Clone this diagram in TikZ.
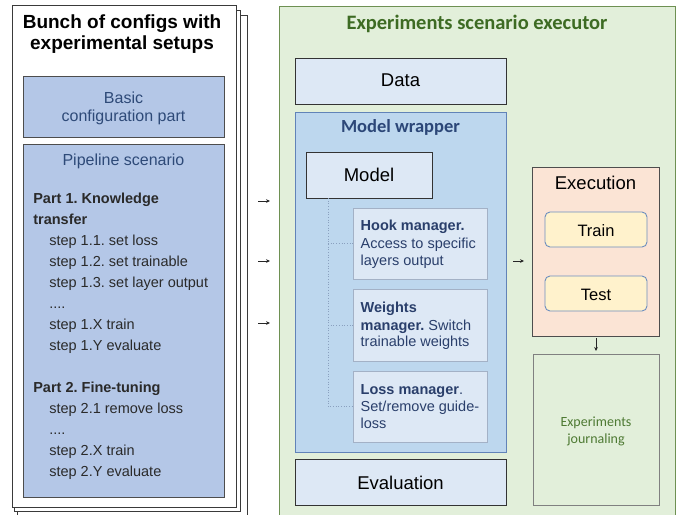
\documentclass[tikz,border=0pt]{standalone}
\usepackage{fontspec}
\setmainfont{Liberation Sans}
\newfontfamily\calib{Carlito}
\usetikzlibrary{arrows.meta}
\frenchspacing
\definecolor{pagedraw}{HTML}{3A3A3A}
\definecolor{cfgfill}{HTML}{B4C7E7}
\definecolor{cfgdraw}{HTML}{4D4D4D}
\definecolor{cfgtext}{HTML}{2E4A78}
\definecolor{steptext}{HTML}{2A2A2A}
\definecolor{greenfill}{HTML}{E2EFDA}
\definecolor{greendraw}{HTML}{6E9052}
\definecolor{greentitle}{HTML}{3D6B23}
\definecolor{lightblue}{HTML}{DDE8F5}
\definecolor{darkdraw}{HTML}{333333}
\definecolor{wrapfill}{HTML}{BDD7EE}
\definecolor{wrapdraw}{HTML}{6183B8}
\definecolor{wraptitle}{HTML}{2C4778}
\definecolor{mgrdraw}{HTML}{A3B1C6}
\definecolor{mgrtext}{HTML}{2A3F6B}
\definecolor{execfill}{HTML}{FBE4D5}
\definecolor{execdraw}{HTML}{4D4D4D}
\definecolor{tfill}{HTML}{FFF2CC}
\definecolor{tdraw}{HTML}{6C8EBF}
\definecolor{journaldraw}{HTML}{808080}
\definecolor{journaltext}{HTML}{4E7A33}
\definecolor{treecol}{HTML}{8AA0BF}
\begin{document}
\begin{tikzpicture}[x=1pt,y=-1pt,
  box/.style={inner sep=0pt, outer sep=0pt, anchor=north west, line width=0.9pt},
  txt/.style={anchor=base, inner sep=0pt, outer sep=0pt},
  txtl/.style={anchor=base west, inner sep=0pt, outer sep=0pt},
  steptxt/.style={txtl, text=steptext, font=\fontsize{14.5}{17}\selectfont},
  mgrtxt/.style={txtl, text=mgrtext, font=\fontsize{14.5}{17}\selectfont},
  arr/.style={-{Stealth[length=4pt,width=3.6pt]}, line width=0.6pt, draw=black!85},
  tree/.style={draw=treecol, line width=0.7pt, dotted}
]
\useasboundingbox (0,0) rectangle (685,514);
% stacked pages
\node[box, draw=pagedraw, fill=white, minimum width=230pt, minimum height=500pt] (p3) at (17,15) {};
\node[box, draw=pagedraw, fill=white, minimum width=226pt, minimum height=501pt] (p2) at (14,10) {};
\node[box, draw=pagedraw, fill=white, minimum width=224pt, minimum height=502pt] (p1) at (12,5) {};
\node[txt, font=\bfseries\fontsize{19}{21}\selectfont] (t1) at (122,28.3) {Bunch of configs with};
\node[txt, font=\bfseries\fontsize{19}{21}\selectfont] (t2) at (122,49.3) {experimental setups};
\node[box, draw=cfgdraw, fill=cfgfill, minimum width=201pt, minimum height=61pt] (basic) at (23,76) {};
\node[txt, text=cfgtext, font=\fontsize{16}{19}\selectfont] (b1) at (123.5,103.3) {Basic};
\node[txt, text=cfgtext, font=\fontsize{16}{19}\selectfont] (b2) at (123.5,121.7) {configuration part};
\node[box, draw=cfgdraw, fill=cfgfill, minimum width=201pt, minimum height=353pt] (pipe) at (23,144) {};
\node[txt, text=cfgtext, font=\fontsize{16}{19}\selectfont] (ps) at (123.5,165.7) {Pipeline scenario};
\node[steptxt, font=\bfseries\fontsize{14.5}{17}\selectfont] (pa1) at (33.3,203.3) {Part 1. Knowledge};
\node[steptxt, font=\bfseries\fontsize{14.5}{17}\selectfont] (pa1b) at (33.3,224.3) {transfer};
\node[steptxt] (s11) at (49.3,245.5) {step 1.1. set loss};
\node[steptxt] (s12) at (49.3,266.5) {step 1.2. set trainable};
\node[steptxt] (s13) at (49.3,287.5) {step 1.3. set layer output};
\node[steptxt] (s1d) at (49.3,308.5) {....};
\node[steptxt] (s1x) at (49.3,329.5) {step 1.X train};
\node[steptxt] (s1y) at (49.3,350.5) {step 1.Y evaluate};
\node[steptxt, font=\bfseries\fontsize{14.5}{17}\selectfont] (pa2) at (33.3,392.3) {Part 2. Fine-tuning};
\node[steptxt] (s21) at (49.3,413.3) {step 2.1 remove loss};
\node[steptxt] (s2d) at (49.3,434.2) {....};
\node[steptxt] (s2x) at (49.3,455.1) {step 2.X train};
\node[steptxt] (s2y) at (49.3,476) {step 2.Y evaluate};
% executor
\node[box, draw=greendraw, fill=greenfill, minimum width=396pt, minimum height=512pt] (green) at (279,6) {};
\node[txt, text=greentitle, font=\calib\bfseries\fontsize{20.5}{24}\selectfont] (gt) at (477,29.3) {Experiments scenario executor};
\node[box, draw=darkdraw, fill=lightblue, minimum width=211pt, minimum height=46pt] (data) at (295,58) {};
\node[txt, font=\fontsize{18.5}{22}\selectfont] (dt) at (400.5,86.7) {Data};
\node[box, draw=wrapdraw, fill=wrapfill, minimum width=211pt, minimum height=340pt] (wrap) at (295,112) {};
\node[txt, text=wraptitle, font=\calib\bfseries\fontsize{18.5}{22}\selectfont] (wt) at (400.5,132.7) {Model wrapper};
\node[box, draw=darkdraw, fill=lightblue, minimum width=126pt, minimum height=46pt] (model) at (306,152) {};
\node[txt, font=\fontsize{18.5}{22}\selectfont] (mt) at (369,181.7) {Model};
\node[box, draw=mgrdraw, fill=lightblue, minimum width=134pt, minimum height=71pt] (hook) at (353,208) {};
\node[box, draw=mgrdraw, fill=lightblue, minimum width=134pt, minimum height=72pt] (weights) at (353,289) {};
\node[box, draw=mgrdraw, fill=lightblue, minimum width=134pt, minimum height=71pt] (loss) at (353,371) {};
\coordinate (tr) at (328,198);
\draw[tree] (tr) |- (loss.west);
\draw[tree] (tr |- hook.west) -- (hook.west);
\draw[tree] (tr |- weights.west) -- (weights.west);
\node[mgrtxt] (h1) at (360.7,230.7) {\textbf{Hook manager.}};
\node[mgrtxt] (h2) at (360.7,248.3) {Access to specific};
\node[mgrtxt] (h3) at (360.7,265) {layers output};
\node[mgrtxt] (w1) at (360.7,312.3) {\textbf{Weights}};
\node[mgrtxt] (w2) at (360.7,330) {\textbf{manager.} Switch};
\node[mgrtxt] (w3) at (360.7,346.7) {trainable weights};
\node[mgrtxt] (l1) at (360.7,394) {\textbf{Loss manager}.};
\node[mgrtxt] (l2) at (360.7,411.7) {Set/remove guide-};
\node[mgrtxt] (l3) at (360.7,428.3) {loss};
\node[box, draw=darkdraw, fill=lightblue, minimum width=211pt, minimum height=46pt] (eval) at (295,459) {};
\node[txt, font=\fontsize{18.5}{22}\selectfont] (et) at (400.5,489.3) {Evaluation};
\node[box, draw=execdraw, fill=execfill, minimum width=127pt, minimum height=169pt] (exec) at (532,167) {};
\node[txt, font=\fontsize{18.5}{22}\selectfont] (ext) at (595.5,189.3) {Execution};
\node[box, draw=tdraw, fill=tfill, rounded corners=5pt, minimum width=102pt, minimum height=35pt] (train) at (545,212) {};
\node[txt, font=\fontsize{16.5}{20}\selectfont] (trt) at (596,236) {Train};
\node[box, draw=tdraw, fill=tfill, rounded corners=5pt, minimum width=102pt, minimum height=35pt] (test) at (545,276) {};
\node[txt, font=\fontsize{16.5}{20}\selectfont] (tet) at (596,300) {Test};
\node[box, draw=journaldraw, fill=greenfill, minimum width=126pt, minimum height=151pt, line width=0.7pt] (journal) at (533,354) {};
\node[txt, text=journaltext, font=\calib\fontsize{14}{17}\selectfont] (j1) at (596,426.7) {Experiments};
\node[txt, text=journaltext, font=\calib\fontsize{14}{17}\selectfont] (j2) at (596,443.3) {journaling};
% arrows
\coordinate (a1s) at (258,201); \coordinate (a1e) at (270,201);
\coordinate (a2s) at (258,261); \coordinate (a2e) at (270,261);
\coordinate (a3s) at (258,323); \coordinate (a3e) at (270,323);
\coordinate (a4s) at (513,261); \coordinate (a4e) at (524,261);
\coordinate (dx) at (596,0);
\draw[arr] (a1s) -- (a1e);
\draw[arr] (a2s) -- (a2e);
\draw[arr] (a3s) -- (a3e);
\draw[arr] (a4s) -- (a4e);
\draw[arr, shorten <=2pt, shorten >=3pt] (exec.south -| dx) -- (journal.north -| dx);
\end{tikzpicture}
\end{document}
